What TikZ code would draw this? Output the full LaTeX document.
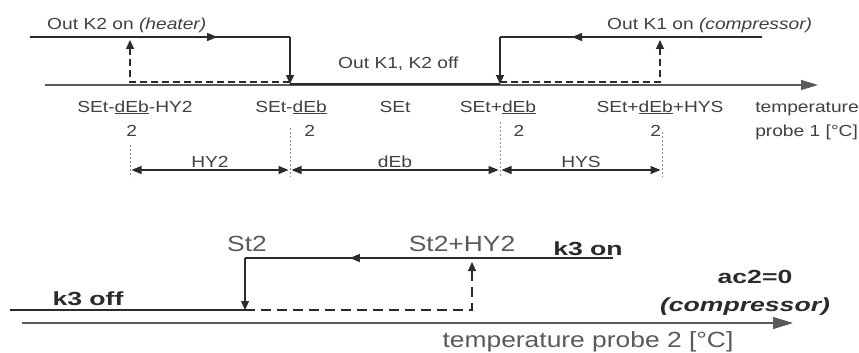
\documentclass[tikz,border=0pt]{standalone}
\usepackage{fontspec}
\setmainfont{Liberation Sans}
\usetikzlibrary{arrows.meta, positioning, decorations.markings}
\definecolor{ink}{HTML}{2B2B2B}
\definecolor{txtgray}{HTML}{404040}
\definecolor{axisgray}{HTML}{5A5A5A}
\definecolor{guidegray}{HTML}{8A8A9A}
\newcommand{\overtwo}[1]{\begin{tabular}[t]{@{}c@{}}\underline{#1}\\[3pt]2\end{tabular}}

\begin{document}
\begin{tikzpicture}[
    x=1pt, y=-1pt,
    lbl/.style={font=\fontsize{16}{21}\selectfont, text=txtgray, inner sep=0pt, xscale=1.2},
    big/.style={font=\fontsize{22}{26}\selectfont, text=axisgray, inner sep=0pt, xscale=1.2},
    bigbold/.style={font=\fontsize{19}{23}\selectfont\bfseries, text=ink, inner sep=0pt, xscale=1.4},
    relay/.style={draw=ink, line width=1.3pt},
    drop/.style={relay, -{Triangle[length=9pt, width=8pt]}},
    back/.style={draw=ink, line width=1.3pt, dash pattern=on 7pt off 4pt, -{Triangle[length=9pt, width=8pt]}},
    axis/.style={draw=axisgray, line width=1.2pt, -{Triangle[length=17pt, width=10pt]}},
    guide/.style={draw=guidegray, line width=0.8pt, dash pattern=on 2pt off 2pt},
    dim/.style={draw=ink, line width=1.2pt, shorten <=1.5pt, shorten >=1.5pt,
      {Triangle[length=10pt, width=8pt]}-{Triangle[length=10pt, width=8pt]}},
    midarr/.style={postaction={decorate}, decoration={markings,
      mark=at position #1 with {\arrow{Triangle[length=10pt, width=8pt]}}}},
  ]
  \useasboundingbox (0,0) rectangle (859,353);

  % probe 1: K1 / K2 outputs
  \coordinate (k2a) at (30,37);
  \coordinate (k2b) at (290,37);
  \coordinate (sw2) at (290,84);
  \coordinate (k1a) at (762,37);
  \coordinate (k1b) at (500,37);
  \coordinate (sw1) at (500,84);
  \coordinate (ax1s) at (45,85);
  \coordinate (ax1e) at (818,85);

  \draw[axis] (ax1s) -- (ax1e);
  \draw[relay, line width=2.4pt] (sw2) -- (sw1);
  \draw[relay, midarr=0.72] (k2a) -- (k2b);
  \draw[drop] (k2b) -- (sw2);
  \draw[relay, midarr=0.725] (k1a) -- (k1b);
  \draw[drop] (k1b) -- (sw1);

  \coordinate (dl2) at (290,82);
  \coordinate (h2lo) at (130,82);
  \coordinate (h2up) at (130,40);
  \coordinate (dl1) at (500,82);
  \coordinate (hslo) at (660,82);
  \coordinate (hsup) at (660,40);
  \draw[back] (dl2) -- (h2lo) -- (h2up);
  \draw[back] (dl1) -- (hslo) -- (hsup);

  \node[lbl, anchor=base west] (k2on) at (47,30) {Out K2 on \textit{(heater)}};
  \node[lbl, anchor=base west] (k1on) at (607,30) {Out K1 on \textit{(compressor)}};
  \node[lbl, anchor=base west] (alloff) at (338,68) {Out K1, K2 off};

  \node[lbl, anchor=base] (lo2) at (135,112) {SEt-\overtwo{dEb}-HY2};
  \node[lbl, anchor=base] (lo1) at (291,112) {SEt-\overtwo{dEb}};
  \node[lbl, anchor=base] (set) at (395,112) {SEt};
  \node[lbl, anchor=base] (hi1) at (498,112) {SEt+\overtwo{dEb}};
  \node[lbl, anchor=base] (hi2) at (660,112) {SEt+\overtwo{dEb}+HYS};
  \node[lbl, anchor=base west] (probe1) at (755,112)
    {\begin{tabular}[t]{@{}l@{}}temperature\\[3pt]probe 1 [°C]\end{tabular}};

  % widths of the bands
  \foreach \i/\gx/\gt in {1/130/145, 2/290/128, 3/500/122, 4/662/132} {
    \coordinate (g\i t) at (\gx,\gt);
    \coordinate (g\i b) at (\gx,177);
    \coordinate (d\i) at (\gx,170);
    \draw[guide] (g\i t) -- (g\i b);
  }
  \draw[dim] (d1) -- node[lbl, above=2pt] (hy2) {HY2} (d2);
  \draw[dim] (d2) -- node[lbl, above=2pt] (deb) {dEb} (d3);
  \draw[dim] (d3) -- node[lbl, above=2pt] (hys) {HYS} (d4);

  % probe 2: k3 output
  \coordinate (k3a) at (613,258);
  \coordinate (k3b) at (245,258);
  \coordinate (sw3) at (245,310);
  \coordinate (offs) at (10,310);
  \coordinate (h3lo) at (472,310);
  \coordinate (h3up) at (472,262);
  \coordinate (ax2s) at (22,323);
  \coordinate (ax2e) at (793,323);

  \draw[axis, -{Triangle[length=20pt, width=12pt]}] (ax2s) -- (ax2e);
  \draw[relay, line width=2.6pt] (offs) -- (sw3);
  \draw[relay, midarr=0.715] (k3a) -- (k3b);
  \draw[drop] (k3b) -- (sw3);
  \draw[back, dash pattern=on 10pt off 6pt] (sw3) -- (h3lo) -- (h3up);

  \node[big, anchor=base] (st2) at (247,251) {St2};
  \node[big, anchor=base] (st2hy) at (462,251) {St2+HY2};
  \node[bigbold, anchor=base] (k3on) at (588,255) {k3 on};
  \node[bigbold, anchor=base] (k3off) at (88,305) {k3 off};
  \node[bigbold, anchor=base] (ac2) at (755,283) {ac2=0};
  \node[bigbold, anchor=base] (comp) at (745,311) {\itshape (compressor)};
  \node[big, anchor=base] (probe2) at (588,347) {temperature probe 2 [°C]};
\end{tikzpicture}
\end{document}
